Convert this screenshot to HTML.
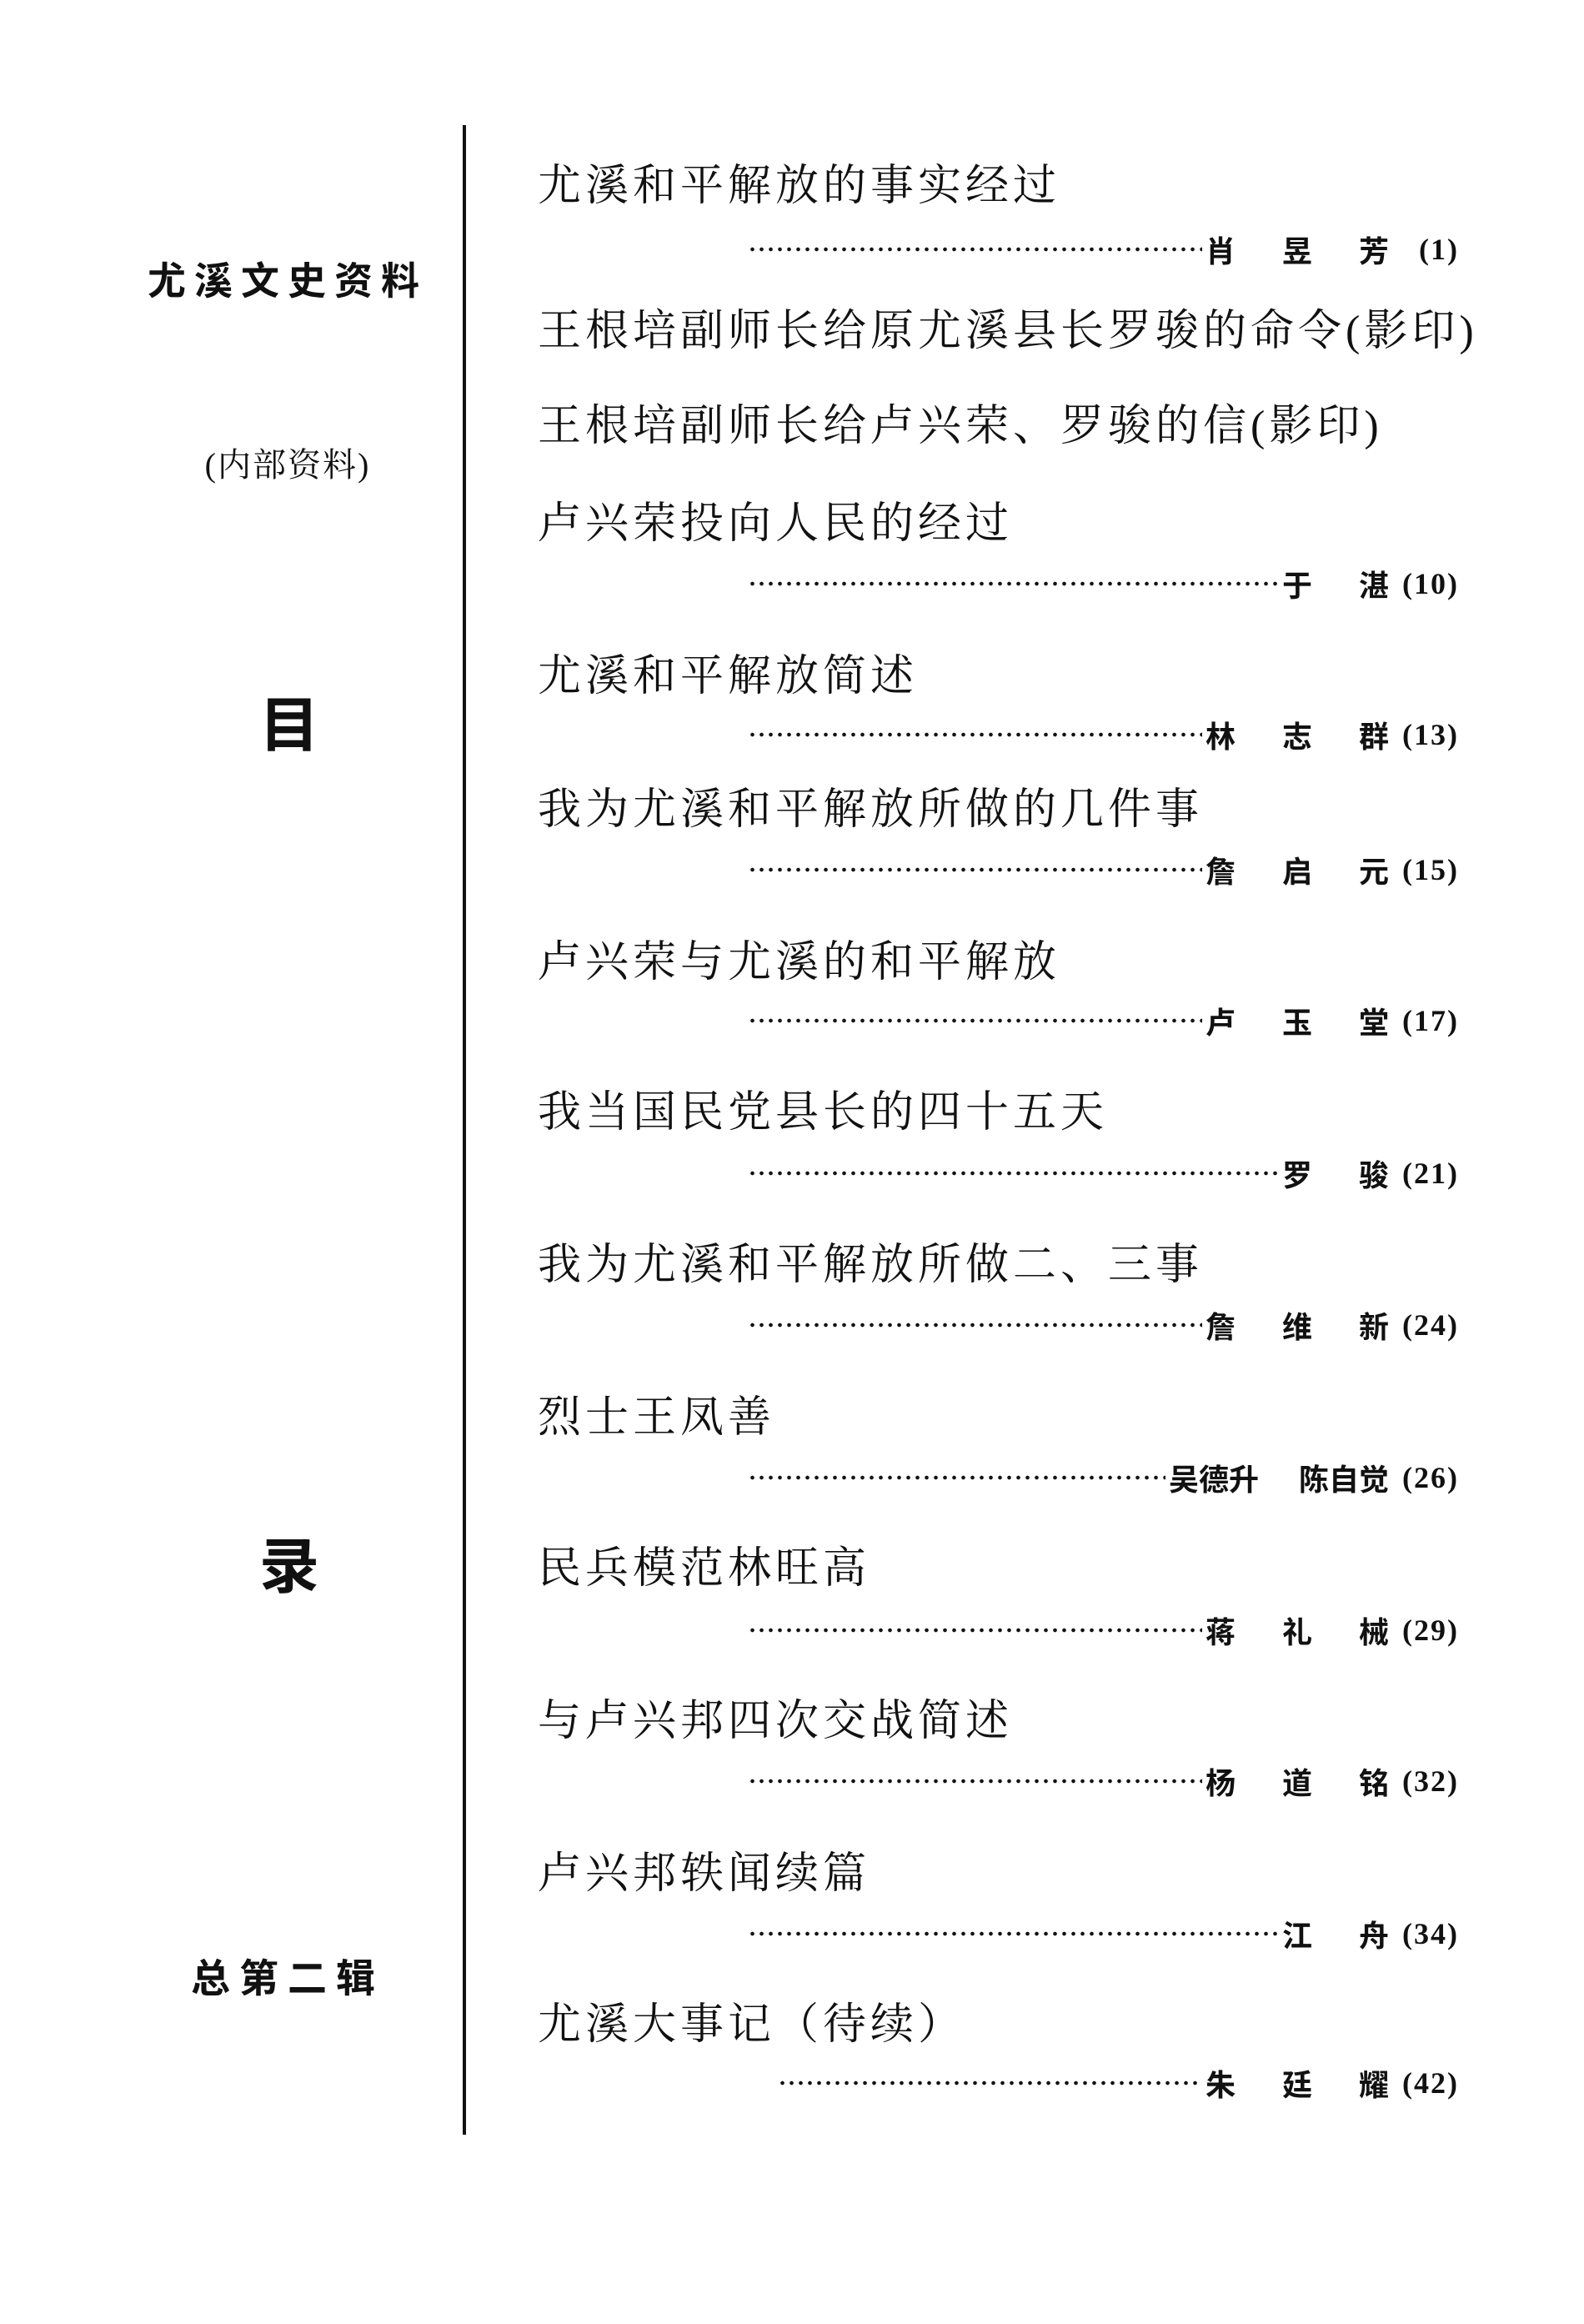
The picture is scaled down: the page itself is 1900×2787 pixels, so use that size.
<!DOCTYPE html>
<html><head><meta charset="utf-8"><style>
html,body{margin:0;padding:0;background:#fff;}
body{width:1900px;height:2787px;position:relative;overflow:hidden;color:#111;}
.a{position:absolute;white-space:nowrap;}
.t{left:645px;font-family:"Liberation Serif","Noto Serif CJK SC",serif;font-size:52px;line-height:52px;letter-spacing:5px;}
.r{position:absolute;height:40px;display:flex;align-items:center;right:150px;font-family:"Liberation Serif","Noto Sans CJK SC",serif;font-weight:bold;font-size:36px;}
.d{flex:1;height:6px;background-image:radial-gradient(circle,#111 2px,transparent 2.6px);background-size:11px 6px;background-repeat:repeat-x;margin-right:4px;}
.n{display:inline-block;width:92px;}
.p{font-family:"Liberation Serif",serif;font-weight:bold;font-size:36px;width:84px;text-align:right;letter-spacing:2px;}
.l{font-family:"Liberation Sans","Noto Sans CJK SC",sans-serif;font-weight:bold;text-align:center;}
</style></head><body>
<div class="a" style="left:555px;top:150px;width:4px;height:2410px;background:#111;"></div>

<div class="a l" style="left:145px;width:400px;top:312px;font-size:46px;line-height:50px;letter-spacing:10px;">尤溪文史资料</div>
<div class="a" style="left:145px;width:400px;top:536px;font-size:40px;line-height:44px;text-align:center;letter-spacing:2px;font-family:'Liberation Serif','Noto Serif CJK SC',serif;">(内部资料)</div>
<div class="a l" style="left:247px;width:200px;top:835px;font-size:72px;line-height:72px;">目</div>
<div class="a l" style="left:247px;width:200px;top:1844px;font-size:72px;line-height:72px;">录</div>
<div class="a l" style="left:145px;width:400px;top:2348px;font-size:47px;line-height:50px;letter-spacing:11px;">总第二辑</div>

<div class="a t" style="top:198px">尤溪和平解放的事实经过</div>
<div class="a t" style="top:372px">王根培副师长给原尤溪县长罗骏的命令(影印)</div>
<div class="a t" style="top:486px">王根培副师长给卢兴荣、罗骏的信(影印)</div>
<div class="a t" style="top:603px">卢兴荣投向人民的经过</div>
<div class="a t" style="top:786px">尤溪和平解放简述</div>
<div class="a t" style="top:946px">我为尤溪和平解放所做的几件事</div>
<div class="a t" style="top:1129px">卢兴荣与尤溪的和平解放</div>
<div class="a t" style="top:1309px">我当国民党县长的四十五天</div>
<div class="a t" style="top:1492px">我为尤溪和平解放所做二、三事</div>
<div class="a t" style="top:1675px">烈士王凤善</div>
<div class="a t" style="top:1856px">民兵模范林旺高</div>
<div class="a t" style="top:2039px">与卢兴邦四次交战简述</div>
<div class="a t" style="top:2222px">卢兴邦轶闻续篇</div>
<div class="a t" style="top:2403px">尤溪大事记（待续）</div>

<div class="r" style="left:897px;top:279px"><span class="d"></span><span class="n">肖</span><span class="n">昱</span><span>芳</span><span class="p">(1)</span></div>
<div class="r" style="left:897px;top:680px"><span class="d"></span><span class="n">于</span><span>湛</span><span class="p">(10)</span></div>
<div class="r" style="left:897px;top:861px"><span class="d"></span><span class="n">林</span><span class="n">志</span><span>群</span><span class="p">(13)</span></div>
<div class="r" style="left:897px;top:1023px"><span class="d"></span><span class="n">詹</span><span class="n">启</span><span>元</span><span class="p">(15)</span></div>
<div class="r" style="left:897px;top:1204px"><span class="d"></span><span class="n">卢</span><span class="n">玉</span><span>堂</span><span class="p">(17)</span></div>
<div class="r" style="left:897px;top:1387px"><span class="d"></span><span class="n">罗</span><span>骏</span><span class="p">(21)</span></div>
<div class="r" style="left:897px;top:1569px"><span class="d"></span><span class="n">詹</span><span class="n">维</span><span>新</span><span class="p">(24)</span></div>
<div class="r" style="left:897px;top:1752px"><span class="d"></span><span style="margin-right:48px">吴德升</span><span>陈自觉</span><span class="p">(26)</span></div>
<div class="r" style="left:897px;top:1935px"><span class="d"></span><span class="n">蒋</span><span class="n">礼</span><span>械</span><span class="p">(29)</span></div>
<div class="r" style="left:897px;top:2116px"><span class="d"></span><span class="n">杨</span><span class="n">道</span><span>铭</span><span class="p">(32)</span></div>
<div class="r" style="left:897px;top:2299px"><span class="d"></span><span class="n">江</span><span>舟</span><span class="p">(34)</span></div>
<div class="r" style="left:933px;top:2478px"><span class="d"></span><span class="n">朱</span><span class="n">廷</span><span>耀</span><span class="p">(42)</span></div>
</body></html>
